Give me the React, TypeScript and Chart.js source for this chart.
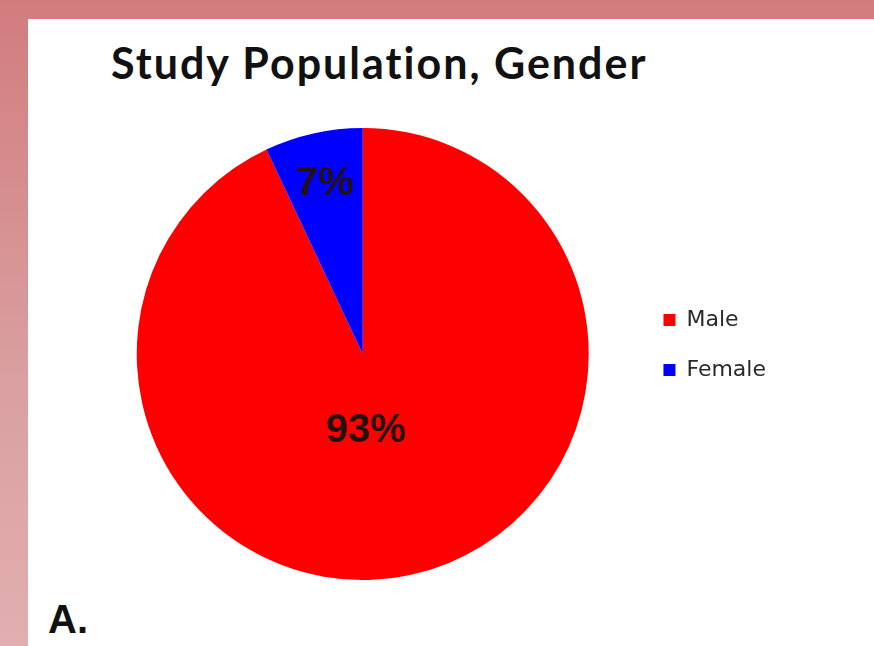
import React, { useEffect, useRef } from "react";
import { Chart, registerables } from "chart.js";

Chart.register(...registerables);

const titleText = "Study Population, Gender";
const panelLabel = "A.";
const categories = ["Male", "Female"];
const values = [93, 7];
const sliceColors = ["#ff0000", "#0000ff"];
const labelRadiusFraction = [0.34, 0.77];
const labelAngleFraction = [0.53, 0.5];

const pctLabels = {
  id: "pctLabels",
  afterDatasetsDraw(chart: any) {
    const ctx = chart.ctx;
    const meta = chart.getDatasetMeta(0);
    const data = chart.data.datasets[0].data as number[];
    const total = data.reduce((a, b) => a + b, 0);
    ctx.save();
    ctx.font = "bold 40px 'Liberation Sans', Arial, sans-serif";
    ctx.fillStyle = "#231010";
    ctx.textAlign = "center";
    ctx.textBaseline = "middle";
    meta.data.forEach((arc: any, i: number) => {
      const p = arc.getProps(["x", "y", "startAngle", "endAngle", "outerRadius"], true);
      const ang = p.startAngle + (p.endAngle - p.startAngle) * labelAngleFraction[i];
      const r = p.outerRadius * labelRadiusFraction[i];
      const x = p.x + Math.cos(ang) * r;
      const y = p.y + Math.sin(ang) * r;
      ctx.fillText(Math.round((data[i] / total) * 100) + "%", x, y);
    });
    ctx.restore();
  },
};

const legendShift = {
  id: "legendShift",
  afterLayout(chart: any) {
    const l = chart.legend;
    if (l) {
      l.top -= 9;
      l.bottom -= 9;
    }
  },
};

export default function App() {
  const canvasRef = useRef<HTMLCanvasElement>(null);

  useEffect(() => {
    if (!canvasRef.current) return;
    const chart = new Chart(canvasRef.current, {
      type: "pie",
      data: {
        labels: categories,
        datasets: [
          {
            data: values,
            backgroundColor: sliceColors,
            borderWidth: 0,
            hoverOffset: 0,
            offset: 0,
          },
        ],
      },
      options: {
        animation: false,
        responsive: true,
        maintainAspectRatio: false,
        layout: { padding: 0 },
        plugins: {
          title: { display: false },
          tooltip: { enabled: false },
          legend: {
            display: true,
            position: "right",
            labels: {
              boxWidth: 12,
              boxHeight: 12,
              padding: 28,
              color: "#2a2a2a",
              font: { family: "'DejaVu Sans', Tahoma, sans-serif", size: 22 },
            },
          },
        },
      },
      plugins: [pctLabels, legendShift],
    });
    return () => chart.destroy();
  }, []);

  return (
    <div
      style={{
        position: "absolute",
        left: 0,
        top: 0,
        width: 874,
        height: 646,
        overflow: "hidden",
        background: "linear-gradient(to bottom, #d27c7e 0%, #daa0a1 60%, #e2aeaf 100%)",
      }}
    >
      <div
        style={{
          position: "absolute",
          left: 28,
          top: 19,
          width: 846,
          height: 627,
          background: "#ffffff",
        }}
      />
      <div
        style={{
          position: "absolute",
          left: 111,
          top: 41,
          font: "bold 43px Lato, 'Open Sans', sans-serif",
          lineHeight: "43px",
          letterSpacing: "2px",
          color: "#111",
          whiteSpace: "nowrap",
        }}
      >
        {titleText}
      </div>
      <div
        style={{
          position: "absolute",
          left: 48,
          top: 599,
          font: "bold 40px 'Liberation Sans', Arial, sans-serif",
          lineHeight: "40px",
          color: "#111",
        }}
      >
        {panelLabel}
      </div>
      <div
        style={{
          position: "absolute",
          left: 90,
          top: 128,
          width: 686,
          height: 452,
        }}
      >
        <canvas ref={canvasRef} />
      </div>
    </div>
  );
}
